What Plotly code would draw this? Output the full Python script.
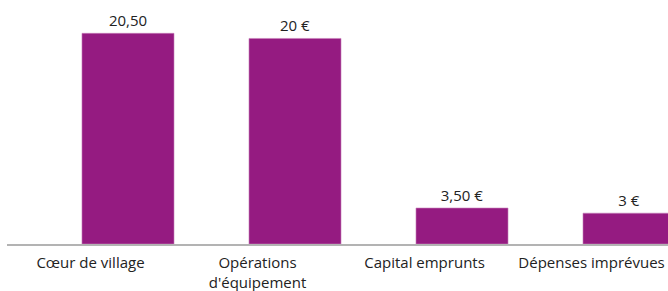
import plotly.graph_objects as go

categories = ["Cœur de village", "Opérations<br>d'équipement", "Capital emprunts", "Dépenses imprévues"]
values = [20.5, 20, 3.5, 3]
value_labels = ["20,50", "20 €", "3,50 €", "3 €"]

bar_color = "#951B81"
text_color = "#222222"
font_family = "Open Sans"

fig = go.Figure()
fig.add_trace(go.Bar(
    x=list(range(len(categories))),
    y=values,
    text=value_labels,
    textposition="outside",
    textfont=dict(family=font_family, size=15, color=text_color),
    cliponaxis=False,
    marker=dict(color=bar_color, line=dict(color="#c77fbb", width=0.6)),
    width=0.551,
    offset=-0.051,
    hoverinfo="skip",
))

fig.update_layout(
    width=668, height=291,
    margin=dict(l=7, r=0, t=0, b=47, autoexpand=False),
    paper_bgcolor="white", plot_bgcolor="white",
    showlegend=False,
    font=dict(family=font_family, size=15, color=text_color),
    xaxis=dict(
        range=[-0.5, 3.458],
        tickmode="array",
        tickvals=list(range(len(categories))),
        ticktext=categories,
        showgrid=False, zeroline=False,
        showline=True, linecolor="#b3b3b3", linewidth=2,
        ticks="outside", ticklen=4, tickcolor="rgba(0,0,0,0)",
        tickfont=dict(family=font_family, size=15, color=text_color),
        tickangle=0,
        ticklabeloverflow="allow",
        automargin=False,
        fixedrange=True,
    ),
    yaxis=dict(
        range=[0, 23.74],
        visible=False,
        showgrid=False, zeroline=False,
        automargin=False,
        fixedrange=True,
    ),
)

fig.write_html(
    "out.html",
    config={"displayModeBar": False, "staticPlot": True},
    post_script="document.body.style.margin='0';document.body.style.overflow='hidden';",
)
